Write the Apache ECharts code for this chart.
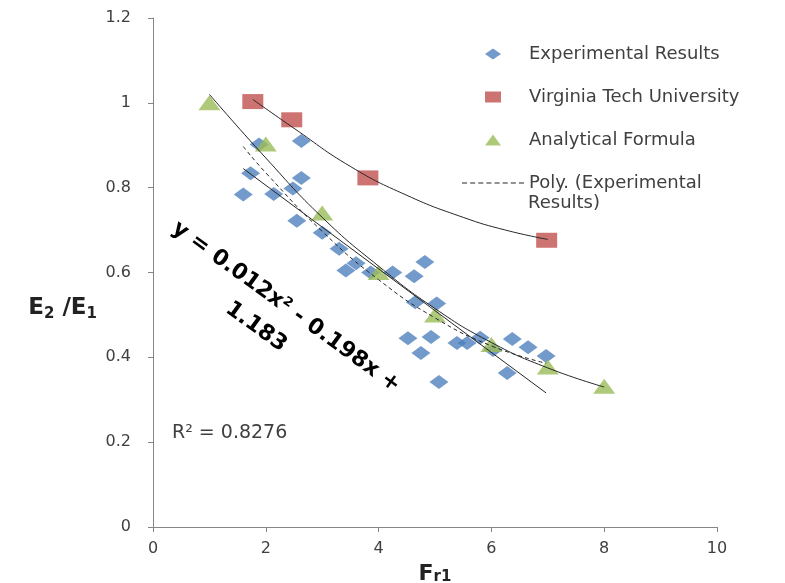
<!DOCTYPE html>
<html>
<head>
<meta charset="utf-8">
<script src="https://cdn.jsdelivr.net/npm/echarts@6/dist/echarts.min.js"></script>
<style>
  html, body { margin: 0; padding: 0; background: #fff; }
  #chart { width: 785px; height: 583px; }
</style>
</head>
<body>
<div id="chart"></div>
<script>
// measured points
const expX = [1.88, 2.63, 1.73, 2.63, 2.48, 1.6, 2.14, 2.55, 3.0, 3.3, 3.42, 3.6, 3.86, 4.25, 4.63, 4.82, 4.65, 5.03, 4.52, 4.93, 4.75, 5.07, 5.39, 5.57, 5.8, 6.03, 6.37, 6.65, 6.97, 6.28];
const expY = [0.902, 0.91, 0.834, 0.823, 0.798, 0.784, 0.785, 0.722, 0.694, 0.656, 0.605, 0.622, 0.6, 0.6, 0.591, 0.625, 0.53, 0.527, 0.445, 0.448, 0.41, 0.342, 0.434, 0.434, 0.446, 0.417, 0.443, 0.424, 0.403, 0.363];

const vtX = [1.77, 2.46, 3.81, 6.98];
const vtY = [1.003, 0.96, 0.823, 0.676];

const anaX = [1, 2, 3, 4, 5, 6, 7, 8];
const anaY = [1.0, 0.903, 0.74, 0.6, 0.5, 0.43, 0.377, 0.332];

// trend lines
const polyX = [1.6, 2, 3, 4, 5, 6, 6.97];
const polyY = [0.897, 0.835, 0.697, 0.583, 0.493, 0.427, 0.386];

const linX = [1.6, 6.97];
const linY = [0.845, 0.316];

const anaTrendX = [1, 2, 3, 4, 5, 6, 7, 8];
const anaTrendY = [1.02, 0.87, 0.73, 0.615, 0.515, 0.435, 0.375, 0.33];

const vtTrendX = [1.77, 2.5, 3.5, 4.5, 5.5, 6.25, 7.0];
const vtTrendY = [1.008, 0.94, 0.85, 0.782, 0.73, 0.70, 0.678];

const xTicks = { min: 0, max: 10, step: 2 };
const yTicks = { min: 0, max: 1.2, step: 0.2 };

const pairs = (xs, ys) => xs.map((x, i) => [x, ys[i]]);

// dashed legend icon: 8 short dashes
let dashPath = 'path://';
for (let i = 0; i < 8; i++) dashPath += 'M' + (i * 8) + ',0h5v1h-5z';

const chart = echarts.init(document.getElementById('chart'));

const trendStyle = { color: '#262626', width: 1 };
const font = 'DejaVu Sans';

const option = {
  animation: false,
  grid: { left: 153, right: 68, top: 18, bottom: 56, outerBoundsMode: 'none', containLabel: false },
  xAxis: {
    type: 'value',
    min: xTicks.min, max: xTicks.max, interval: xTicks.step,
    axisLine: { lineStyle: { color: '#868686' } },
    axisTick: { length: 5, lineStyle: { color: '#868686' } },
    splitLine: { show: false },
    axisLabel: { margin: 14, color: '#404040', fontFamily: font, fontSize: 16 },
    name: '{a|F}{b|r1}',
    nameLocation: 'middle',
    nameGap: 34,
    nameTextStyle: {
      rich: {
        a: { fontFamily: font, fontWeight: 'bold', fontSize: 22, color: '#222', lineHeight: 24, verticalAlign: 'bottom' },
        b: { fontFamily: font, fontWeight: 'bold', fontSize: 15, color: '#222', lineHeight: 19, verticalAlign: 'bottom' }
      }
    }
  },
  yAxis: {
    type: 'value',
    min: yTicks.min, max: yTicks.max, interval: yTicks.step,
    axisLine: { show: true, lineStyle: { color: '#868686' } },
    axisTick: { show: true, length: 5, lineStyle: { color: '#868686' } },
    splitLine: { show: false },
    axisLabel: { margin: 22, color: '#404040', fontFamily: font, fontSize: 16 },
    name: '{e|E}{s|2}{e| /E}{s|1}',
    nameLocation: 'middle',
    nameRotate: 0,
    nameGap: 56,
    nameTextStyle: {
      padding: [72, 0, 0, 0],
      rich: {
        e: { fontFamily: font, fontWeight: 'bold', fontSize: 23, color: '#222', lineHeight: 26, verticalAlign: 'middle' },
        s: { fontFamily: font, fontWeight: 'bold', fontSize: 15, color: '#222', lineHeight: 14, verticalAlign: 'bottom' }
      }
    }
  },
  legend: {
    orient: 'vertical',
    left: 457,
    top: 39,
    itemWidth: 62,
    itemHeight: 11,
    itemGap: 23,
    textStyle: { fontFamily: font, fontSize: 18, color: '#404040', lineHeight: 20 },
    formatter: name => name === 'Poly. (Experimental Results)' ? 'Poly. (Experimental' : name,
    data: [
      { name: 'Experimental Results', icon: 'path://M8,0L16,5.5L8,11L0,5.5Z' },
      { name: 'Virginia Tech University', icon: 'path://M0,0H16V11H0Z' },
      { name: 'Analytical Formula', icon: 'path://M8,0L16,11L0,11Z' },
      { name: 'Poly. (Experimental Results)', icon: dashPath }
    ]
  },
  graphic: [
    {
      type: 'text', x: 528, y: 194,
      style: { text: 'Results)', font: '18px "DejaVu Sans"', fill: '#404040' }
    },
    {
      type: 'text', x: 172, y: 433,
      style: { text: 'R² = 0.8276', font: '19px "DejaVu Sans"', fill: '#404040', textVerticalAlign: 'middle' }
    },
    {
      type: 'text', x: 286, y: 307, rotation: -0.627,
      style: { text: 'y = 0.012x² - 0.198x +', font: 'bold 22px "DejaVu Sans"', fill: '#000', textAlign: 'center', textVerticalAlign: 'middle' }
    },
    {
      type: 'text', x: 256, y: 327, rotation: -0.627,
      style: { text: '1.183', font: 'bold 22px "DejaVu Sans"', fill: '#000', textAlign: 'center', textVerticalAlign: 'middle' }
    }
  ],
  series: [
    {
      name: 'Experimental Results', type: 'scatter',
      symbol: 'diamond', symbolSize: [19, 14],
      itemStyle: { color: '#4F81BD' },
      data: pairs(expX, expY)
    },
    {
      name: 'Virginia Tech University', type: 'scatter',
      symbol: 'rect', symbolSize: [21, 15],
      itemStyle: { color: '#C0504D' },
      data: pairs(vtX, vtY)
    },
    {
      name: 'Analytical Formula', type: 'scatter',
      symbol: 'triangle', symbolSize: [22, 15],
      itemStyle: { color: '#9BBB59' },
      data: pairs(anaX, anaY)
    },
    {
      name: 'Poly. (Experimental Results)', type: 'line',
      smooth: true, symbol: 'none',
      lineStyle: { color: '#262626', width: 1, type: [4, 3] },
      itemStyle: { color: '#262626' },
      data: pairs(polyX, polyY)
    },
    {
      name: 'Linear (Experimental Results)', type: 'line',
      symbol: 'none', lineStyle: trendStyle,
      data: pairs(linX, linY)
    },
    {
      name: 'Trend (Analytical Formula)', type: 'line',
      smooth: true, symbol: 'none', lineStyle: trendStyle,
      data: pairs(anaTrendX, anaTrendY)
    },
    {
      name: 'Trend (Virginia Tech University)', type: 'line',
      smooth: true, symbol: 'none', lineStyle: trendStyle,
      data: pairs(vtTrendX, vtTrendY)
    }
  ]
};

chart.setOption(option);
</script>
</body>
</html>
